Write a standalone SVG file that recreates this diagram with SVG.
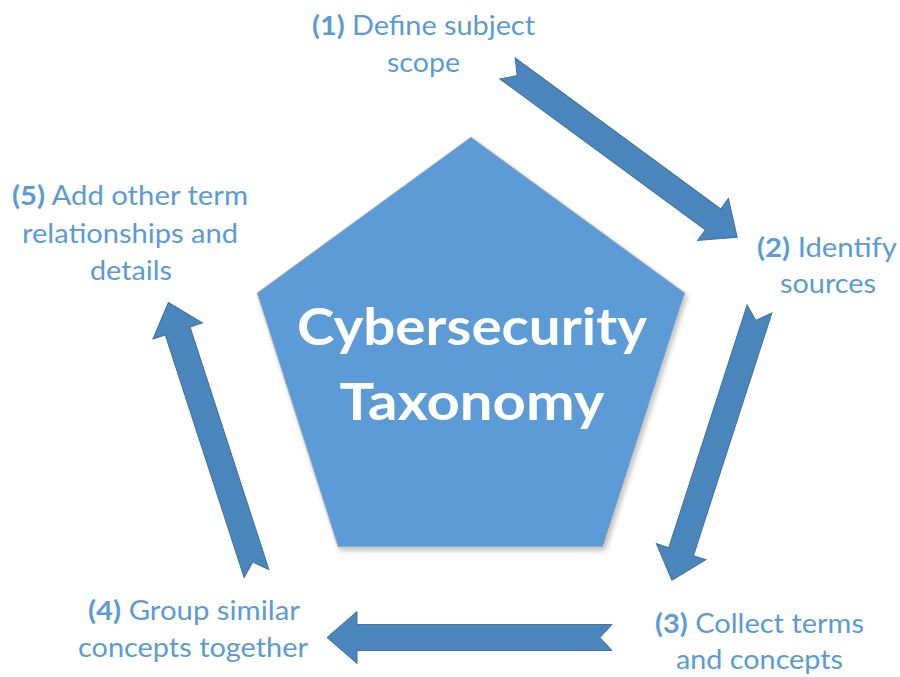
<svg xmlns="http://www.w3.org/2000/svg" width="900" height="677" viewBox="0 0 900 677">
<style>
.lbl{font-family:Lato,"Open Sans","Liberation Sans",sans-serif;font-size:26px;fill:#5b9bd5;}
.num{font-weight:bold;}
.title{font-family:Lato,"Open Sans","Liberation Sans",sans-serif;font-size:52px;font-weight:bold;fill:#ffffff;text-anchor:middle;}
.arrow{fill:#4a86bc;stroke:#41719c;stroke-width:1;stroke-linejoin:miter;}
</style>
<defs>
<filter id="sh" x="-10%" y="-10%" width="130%" height="130%">
<feDropShadow dx="2" dy="3" stdDeviation="2.5" flood-color="#000" flood-opacity="0.25"/>
</filter>
<path id="arr" d="M0,-13 L255,-13 L255,-26 L285,0 L255,26 L255,13 L0,13 L12,0 Z"/>
</defs>
<g id="center">
<polygon points="471,137 685,293 603,547 338,547 257,293" fill="#5b9bd5" stroke="#bfbfbf" stroke-width="1" filter="url(#sh)"/>
<text class="title" x="472" y="345" textLength="350" lengthAdjust="spacingAndGlyphs">Cybersecurity</text>
<text class="title" x="472" y="420" textLength="265" lengthAdjust="spacingAndGlyphs">Taxonomy</text>
</g>
<g id="connectors">
<use href="#arr" class="arrow" transform="translate(507.5,68.5) rotate(36.3)"/>
<use href="#arr" class="arrow" transform="translate(759.5,309) rotate(107.9)"/>
<use href="#arr" class="arrow" transform="translate(612,637.5) rotate(180)"/>
<use href="#arr" class="arrow" transform="translate(256.5,573.5) rotate(-108)"/>
</g>
<g id="step1">
<text class="lbl" x="312" y="35" textLength="223" lengthAdjust="spacingAndGlyphs"><tspan class="num">(1)</tspan> Define subject</text>
<text class="lbl" x="387" y="72" textLength="73" lengthAdjust="spacingAndGlyphs">scope</text>
</g>
<g id="step2">
<text class="lbl" x="757" y="257" textLength="140" lengthAdjust="spacingAndGlyphs"><tspan class="num">(2)</tspan> Identify</text>
<text class="lbl" x="780" y="293" textLength="96" lengthAdjust="spacingAndGlyphs">sources</text>
</g>
<g id="step3">
<text class="lbl" x="655" y="633" textLength="209" lengthAdjust="spacingAndGlyphs"><tspan class="num">(3)</tspan> Collect terms</text>
<text class="lbl" x="676" y="669" textLength="167" lengthAdjust="spacingAndGlyphs">and concepts</text>
</g>
<g id="step4">
<text class="lbl" x="88" y="620" textLength="212" lengthAdjust="spacingAndGlyphs"><tspan class="num">(4)</tspan> Group similar</text>
<text class="lbl" x="78" y="657" textLength="230" lengthAdjust="spacingAndGlyphs">concepts together</text>
</g>
<g id="step5">
<text class="lbl" x="12" y="205" textLength="236" lengthAdjust="spacingAndGlyphs"><tspan class="num">(5)</tspan> Add other term</text>
<text class="lbl" x="22" y="243" textLength="216" lengthAdjust="spacingAndGlyphs">relationships and</text>
<text class="lbl" x="90" y="280" textLength="82" lengthAdjust="spacingAndGlyphs">details</text>
</g>
</svg>
